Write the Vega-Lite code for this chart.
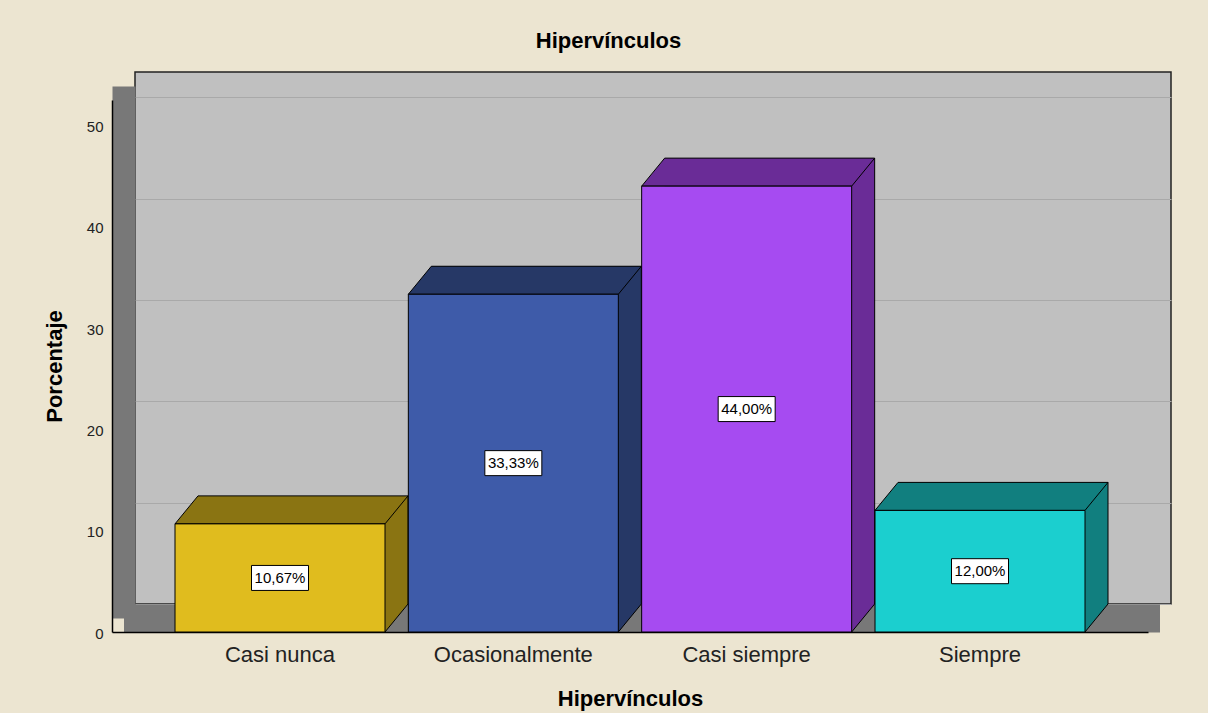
{
  "$schema": "https://vega.github.io/schema/vega-lite/v6.json",
  "width": 1036,
  "height": 532,
  "autosize": {"type": "none"},
  "padding": {"left": 135, "top": 72, "right": 37, "bottom": 109},
  "background": "#ece5d1",
  "title": {"text": "Hipervínculos", "fontSize": 22, "fontWeight": "bold", "font": "Liberation Sans", "color": "#000000", "anchor": "middle", "offset": 19, "dx": -44.5},
  "config": {
    "view": {"fill": "#c0c0c0", "stroke": "#222222", "strokeWidth": 1.5},
    "font": "Liberation Sans"
  },
  "data": {
    "values": [
      {"cat": "Casi nunca", "pct": 10.67, "label": "10,67%"},
      {"cat": "Ocasionalmente", "pct": 33.33, "label": "33,33%"},
      {"cat": "Casi siempre", "pct": 44.0, "label": "44,00%"},
      {"cat": "Siempre", "pct": 12.0, "label": "12,00%"}
    ]
  },
  "transform": [{"calculate": "datum.pct / 2", "as": "mid"}],
  "layer": [
    {
      "mark": {"type": "bar", "strokeWidth": 0},
      "encoding": {
        "x": {"field": "cat", "type": "nominal", "sort": ["Casi nunca", "Ocasionalmente", "Casi siempre", "Siempre"],
              "scale": {"paddingInner": 0.1, "paddingOuter": 0.27, "round": false},
              "axis": {"orient": "bottom", "domain": true, "domainColor": "#787878", "domainWidth": 28, "offset": 14, "position": -11.5, "ticks": false, "labels": false, "title": null, "grid": false}},
        "y": {"field": "pct", "type": "quantitative", "scale": {"domain": [0, 52.5], "nice": false, "zero": true},
              "axis": {"orient": "left", "grid": true, "gridColor": "#a9a9a9", "gridWidth": 1, "domain": false, "ticks": false, "labels": false, "title": null, "values": [0, 10, 20, 30, 40, 50]}},
        "fill": {"field": "cat", "type": "nominal", "sort": ["Casi nunca", "Ocasionalmente", "Casi siempre", "Siempre"], "legend": null,
                 "scale": {"domain": ["Casi nunca", "Ocasionalmente", "Casi siempre", "Siempre"], "range": ["#8a7412", "#263866", "#6a2c97", "#117f7f"]}}
      }
    },
    {
      "mark": {"type": "point", "shape": "M82,-1L105,-1L105,0L82,28Z", "size": 4, "filled": true, "strokeWidth": 0, "opacity": 1},
      "encoding": {
        "x": {"field": "cat", "type": "nominal", "sort": ["Casi nunca", "Ocasionalmente", "Casi siempre", "Siempre"], "axis": null},
        "y": {"datum": 0, "type": "quantitative",
              "axis": {"orient": "left", "domain": true, "domainColor": "#787878", "domainWidth": 23, "offset": 11.5, "position": 14, "grid": false, "ticks": false, "labels": false, "title": null}},
        "fill": {"field": "cat", "type": "nominal", "legend": null,
                 "scale": {"domain": ["Casi nunca", "Ocasionalmente", "Casi siempre", "Siempre"], "range": ["#8a7412", "#263866", "#6a2c97", "#117f7f"]}}
      }
    },
    {
      "mark": {"type": "point", "shape": "M-128,28L-105,0L105,0L82,28Z", "size": 4, "filled": true, "stroke": "#000000", "strokeWidth": 1, "opacity": 1},
      "encoding": {
        "x": {"field": "cat", "type": "nominal", "sort": ["Casi nunca", "Ocasionalmente", "Casi siempre", "Siempre"], "axis": null},
        "y": {"field": "pct", "type": "quantitative", "axis": null},
        "fill": {"field": "cat", "type": "nominal", "legend": null,
                 "scale": {"domain": ["Casi nunca", "Ocasionalmente", "Casi siempre", "Siempre"], "range": ["#8a7412", "#263866", "#6a2c97", "#117f7f"]}}
      }
    },
    {
      "mark": {"type": "rule", "xOffset": 105, "stroke": "#000000", "strokeWidth": 1},
      "encoding": {
        "x": {"field": "cat", "type": "nominal", "sort": ["Casi nunca", "Ocasionalmente", "Casi siempre", "Siempre"], "axis": null},
        "y": {"field": "pct", "type": "quantitative", "axis": null},
        "y2": {"datum": 0}
      }
    },
    {
      "mark": {"type": "point", "shape": "M82,28L105,0", "size": 4, "filled": false, "stroke": "#000000", "strokeWidth": 1, "opacity": 1},
      "encoding": {
        "x": {"field": "cat", "type": "nominal", "sort": ["Casi nunca", "Ocasionalmente", "Casi siempre", "Siempre"], "axis": null},
        "y": {"datum": 0, "type": "quantitative", "axis": null}
      }
    },
    {
      "mark": {"type": "bar", "xOffset": -23, "x2Offset": -23, "yOffset": 28, "y2Offset": 28, "stroke": "#000000", "strokeWidth": 1},
      "encoding": {
        "x": {"field": "cat", "type": "nominal", "sort": ["Casi nunca", "Ocasionalmente", "Casi siempre", "Siempre"],
              "axis": {"orient": "bottom", "offset": 28, "position": -23, "domain": true, "domainColor": "#000000", "domainWidth": 1.5, "ticks": false, "labelPadding": 12, "labelFontSize": 22, "labelColor": "#222222", "labelFont": "Liberation Sans", "labelAngle": 0,
                       "title": "Hipervínculos", "titleFontSize": 22, "titleFontWeight": "bold", "titleFont": "Liberation Sans", "titleColor": "#000000", "titlePadding": 23, "grid": false}},
        "y": {"field": "pct", "type": "quantitative",
              "axis": {"orient": "left", "offset": 23, "position": 28, "domain": true, "domainColor": "#000000", "domainWidth": 1.5, "ticks": false, "tickSize": 0, "labelPadding": 9, "labelFontSize": 15, "labelColor": "#222222", "labelFont": "Liberation Sans", "labelOffset": 1, "values": [0, 10, 20, 30, 40, 50],
                       "title": "Porcentaje", "titleFontSize": 22, "titleFontWeight": "bold", "titleFont": "Liberation Sans", "titleColor": "#000000", "titlePadding": 20, "grid": false}},
        "fill": {"field": "cat", "type": "nominal", "legend": null,
                 "scale": {"domain": ["Casi nunca", "Ocasionalmente", "Casi siempre", "Siempre"], "range": ["#e0bc1e", "#3e5ba9", "#a64bf1", "#1bcfcf"]}}
      }
    },
    {
      "mark": {"type": "point", "shape": "M-28.5,-12.5H28.5V12.5H-28.5Z", "size": 4, "filled": true, "fill": "#ffffff", "stroke": "#000000", "strokeWidth": 1, "opacity": 1, "xOffset": -23, "yOffset": 28},
      "encoding": {
        "x": {"field": "cat", "type": "nominal", "sort": ["Casi nunca", "Ocasionalmente", "Casi siempre", "Siempre"], "axis": null},
        "y": {"field": "mid", "type": "quantitative", "axis": null}
      }
    },
    {
      "mark": {"type": "text", "xOffset": -23, "yOffset": 28, "fontSize": 15, "font": "Liberation Sans", "color": "#000000", "align": "center", "baseline": "middle"},
      "encoding": {
        "x": {"field": "cat", "type": "nominal", "sort": ["Casi nunca", "Ocasionalmente", "Casi siempre", "Siempre"], "axis": null},
        "y": {"field": "mid", "type": "quantitative", "axis": null},
        "text": {"field": "label"}
      }
    }
  ],
  "resolve": {"scale": {"fill": "independent"}, "axis": {"x": "independent", "y": "independent"}}
}
